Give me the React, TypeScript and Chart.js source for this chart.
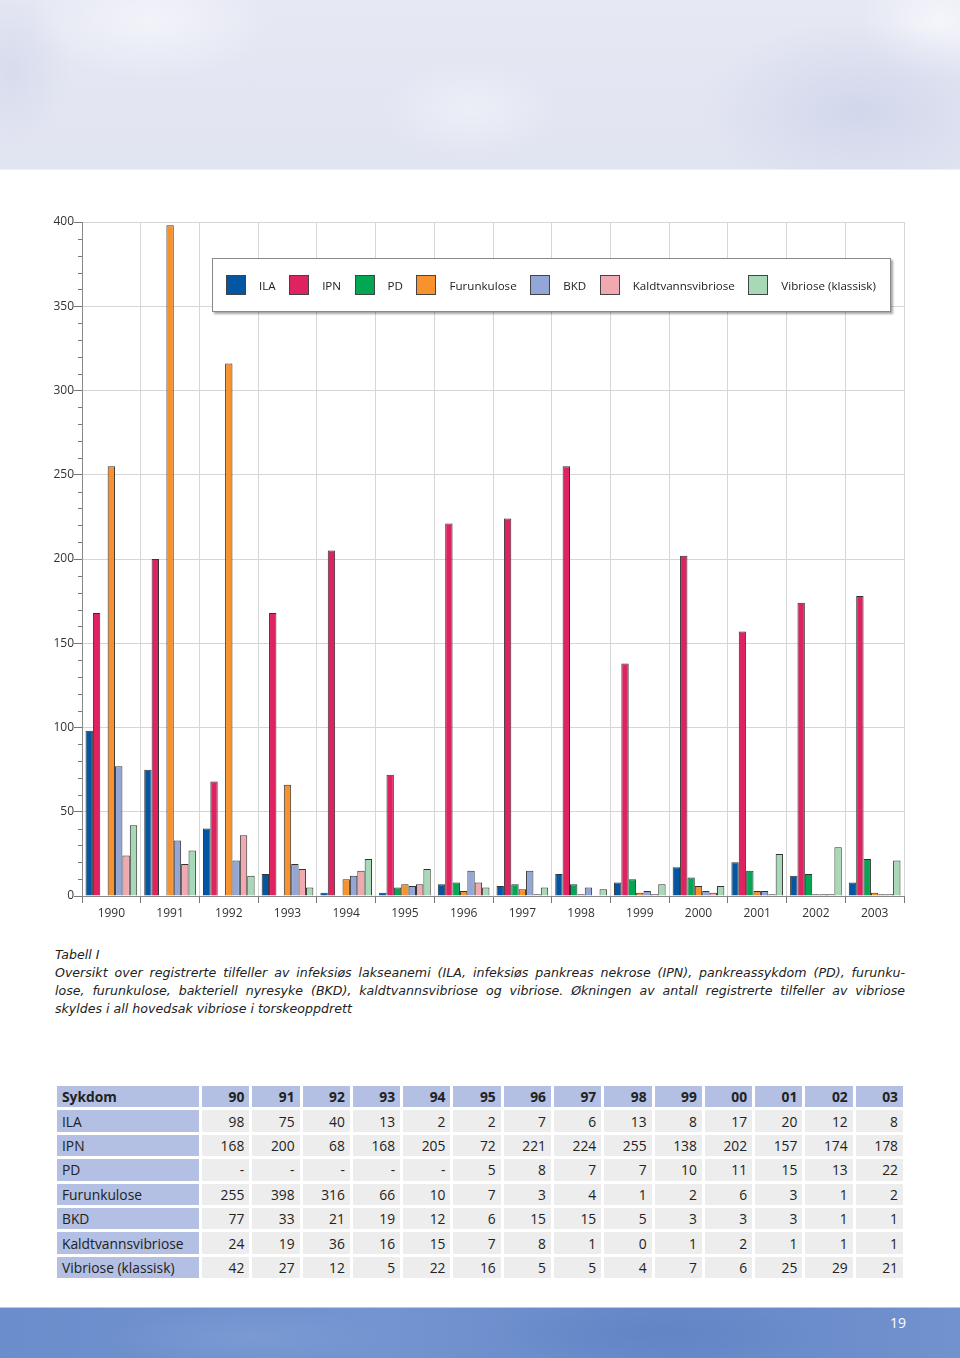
import React, { useEffect, useRef } from "react";
import { Chart, registerables } from "chart.js";

Chart.register(...registerables);

const years = ["1990", "1991", "1992", "1993", "1994", "1995", "1996", "1997", "1998", "1999", "2000", "2001", "2002", "2003"];
const tableYears = ["90", "91", "92", "93", "94", "95", "96", "97", "98", "99", "00", "01", "02", "03"];
const seriesNames = ["ILA", "IPN", "PD", "Furunkulose", "BKD", "Kaldtvannsvibriose", "Vibriose (klassisk)"];
const seriesColors = ["#0456a2", "#df2360", "#03a652", "#f7922e", "#93a6d6", "#f0a8b1", "#a7d9b6"];

const ila = [98, 75, 40, 13, 2, 2, 7, 6, 13, 8, 17, 20, 12, 8];
const ipn = [168, 200, 68, 168, 205, 72, 221, 224, 255, 138, 202, 157, 174, 178];
const pd = [null, null, null, null, null, 5, 8, 7, 7, 10, 11, 15, 13, 22];
const furunkulose = [255, 398, 316, 66, 10, 7, 3, 4, 1, 2, 6, 3, 1, 2];
const bkd = [77, 33, 21, 19, 12, 6, 15, 15, 5, 3, 3, 3, 1, 1];
const kaldtvann = [24, 19, 36, 16, 15, 7, 8, 1, 0, 1, 2, 1, 1, 1];
const vibriose = [42, 27, 12, 5, 22, 16, 5, 5, 4, 7, 6, 25, 29, 21];

const seriesValues: (number | null)[][] = [ila, ipn, pd, furunkulose, bkd, kaldtvann, vibriose];

const yMin = 0;
const yMax = 400;
const yMajorStep = 50;
const yMinorStep = 10;

const captionTitle = "Tabell I";
const captionLines = [
  "Oversikt over registrerte tilfeller av infeksiøs lakseanemi (ILA, infeksiøs pankreas nekrose (IPN), pankreassykdom (PD), furunku-",
  "lose, furunkulose, bakteriell nyresyke (BKD), kaldtvannsvibriose og vibriose. Økningen av antall registrerte tilfeller av vibriose",
  "skyldes i all hovedsak vibriose i torskeoppdrett",
];
const tableHeader = "Sykdom";
const pageNumber = "19";

const FONT = "'Open Sans', 'DejaVu Sans', sans-serif";
const CAPTION_FONT = "'DejaVu Sans', sans-serif";

const minorTicksPlugin = {
  id: "minorTicks",
  afterDraw(chart: any) {
    const y = chart.scales.y;
    const ctx = chart.ctx;
    ctx.save();
    ctx.strokeStyle = "#777";
    ctx.lineWidth = 1;
    for (let v = yMin; v <= yMax; v += yMinorStep) {
      if (v % yMajorStep === 0) continue;
      const py = Math.round(y.getPixelForValue(v)) + 0.5;
      ctx.beginPath();
      ctx.moveTo(y.right - 4, py);
      ctx.lineTo(y.right, py);
      ctx.stroke();
    }
    ctx.restore();
  },
};

function BarChart() {
  const ref = useRef<HTMLCanvasElement | null>(null);
  useEffect(() => {
    if (!ref.current) return;
    const chart = new Chart(ref.current, {
      type: "bar",
      data: {
        labels: years,
        datasets: seriesNames.map((name, i) => ({
          label: name,
          data: seriesValues[i] as any,
          backgroundColor: seriesColors[i],
          borderColor: "#333",
          borderWidth: 1,
          barPercentage: 1,
          categoryPercentage: 0.88,
        })),
      },
      options: {
        animation: false,
        responsive: false,
        maintainAspectRatio: false,
        layout: { padding: { left: 32, right: 56, top: 22, bottom: 14 } },
        plugins: { legend: { display: false }, tooltip: { enabled: false } },
        scales: {
          x: {
            grid: { color: "#d6d6d6", tickColor: "#777", tickLength: 7, offset: true },
            border: { color: "#888" },
            ticks: { color: "#333", font: { family: FONT, size: 12 }, padding: 3 },
            afterFit: (s: any) => { s.height = 30; },
          },
          y: {
            min: yMin,
            max: yMax,
            grid: { color: "#d6d6d6", tickColor: "#777", tickLength: 8 },
            border: { color: "#888" },
            ticks: { stepSize: yMajorStep, color: "#333", font: { family: FONT, size: 12 }, padding: 0 },
            afterFit: (s: any) => { s.width = 50; },
          },
        },
      },
      plugins: [minorTicksPlugin],
    });
    return () => chart.destroy();
  }, []);
  return (
    <canvas
      ref={ref}
      width={960}
      height={740}
      style={{ position: "absolute", left: 0, top: 200, width: 960, height: 740 }}
    />
  );
}

function Legend() {
  return (
    <div
      style={{
        position: "absolute",
        left: 212,
        top: 258,
        width: 664,
        height: 52,
        background: "#fff",
        border: "1px solid #8a8a8a",
        boxShadow: "2px 2px 2px rgba(0,0,0,0.35)",
        display: "flex",
        alignItems: "center",
        paddingLeft: 13,
        boxSizing: "content-box",
        fontFamily: FONT,
        fontSize: 11.6,
        color: "#222",
      }}
    >
      {seriesNames.map((n, i) => (
        <div key={n} style={{ display: "flex", alignItems: "center", marginRight: i < seriesNames.length - 1 ? 13.5 : 0 }}>
          <span
            style={{
              display: "inline-block",
              width: 18,
              height: 18,
              background: seriesColors[i],
              border: "1px solid #444",
              marginRight: 13,
            }}
          />
          <span>{n}</span>
        </div>
      ))}
    </div>
  );
}

function Caption() {
  return (
    <div
      style={{
        position: "absolute",
        left: 55,
        top: 946,
        width: 850,
        fontFamily: CAPTION_FONT,
        fontStyle: "italic",
        fontSize: 12.6,
        lineHeight: "18px",
        color: "#222",
      }}
    >
      <div>{captionTitle}</div>
      {captionLines.map((l, i) => (
        <div key={i} style={{ textAlign: "justify", textAlignLast: i < captionLines.length - 1 ? "justify" : "left", whiteSpace: "nowrap" as any }}>
          {l}
        </div>
      ))}
    </div>
  );
}

function DataTable() {
  const head = "#b3bfe3";
  const body = "#ededed";
  const cell: React.CSSProperties = { height: 21.4, padding: "0 5px", textAlign: "right", whiteSpace: "nowrap" };
  return (
    <table
      style={{
        position: "absolute",
        left: 54,
        top: 1083,
        width: 852,
        borderCollapse: "separate",
        borderSpacing: 3,
        fontFamily: FONT,
        fontSize: 13.8,
        color: "#222",
        tableLayout: "fixed",
      }}
    >
      <colgroup>
        <col style={{ width: 142 }} />
        {tableYears.map((y) => (
          <col key={y} />
        ))}
      </colgroup>
      <tbody>
        <tr>
          <td style={{ ...cell, background: head, textAlign: "left", fontWeight: 700 }}>{tableHeader}</td>
          {tableYears.map((y) => (
            <td key={y} style={{ ...cell, background: head, fontWeight: 700 }}>{y}</td>
          ))}
        </tr>
        {seriesNames.map((n, i) => (
          <tr key={n}>
            <td style={{ ...cell, background: head, textAlign: "left" }}>{n}</td>
            {seriesValues[i].map((v, j) => (
              <td key={j} style={{ ...cell, background: body }}>{v === null ? "-" : v}</td>
            ))}
          </tr>
        ))}
      </tbody>
    </table>
  );
}

export default function App() {
  return (
    <div style={{ position: "absolute", left: 0, top: 0, width: 960, height: 1358, overflow: "hidden", background: "#fff" }}>
      <div
        style={{
          position: "absolute",
          left: 0,
          top: 0,
          width: 960,
          height: 169,
          background:
            "radial-gradient(ellipse 120px 60px at 150px 20px, rgba(245,246,251,0.8), rgba(245,246,251,0) 100%)," +
            "radial-gradient(ellipse 90px 50px at 470px 110px, rgba(240,242,249,0.7), rgba(240,242,249,0) 100%)," +
            "radial-gradient(ellipse 160px 90px at 860px 110px, rgba(205,211,234,0.8), rgba(205,211,234,0) 100%)," +
            "radial-gradient(ellipse 80px 60px at 940px 20px, rgba(246,247,252,0.9), rgba(246,247,252,0) 100%)," +
            "radial-gradient(ellipse 60px 80px at 10px 70px, rgba(212,217,236,0.8), rgba(212,217,236,0) 100%)," +
            "linear-gradient(180deg, #e6e8f3 0%, #e1e4f1 100%)",
          borderBottom: "1px solid #eef0f7",
        }}
      />
      <BarChart />
      <Legend />
      <Caption />
      <DataTable />
      <div
        style={{
          position: "absolute",
          left: 0,
          top: 1307,
          width: 960,
          height: 51,
          background:
            "radial-gradient(ellipse 140px 30px at 250px 30px, rgba(130,160,215,0.6), rgba(130,160,215,0) 100%)," +
            "radial-gradient(ellipse 160px 30px at 650px 25px, rgba(95,130,196,0.6), rgba(95,130,196,0) 100%)," +
            "linear-gradient(90deg, #6b8dcb 0%, #7394d0 40%, #6788c8 70%, #7192ce 100%)",
          borderTop: "1px solid #b9c8e8",
        }}
      >
        <div
          style={{
            position: "absolute",
            left: 890,
            top: 5,
            color: "#fff",
            fontFamily: FONT,
            fontSize: 14,
          }}
        >
          {pageNumber}
        </div>
      </div>
    </div>
  );
}
